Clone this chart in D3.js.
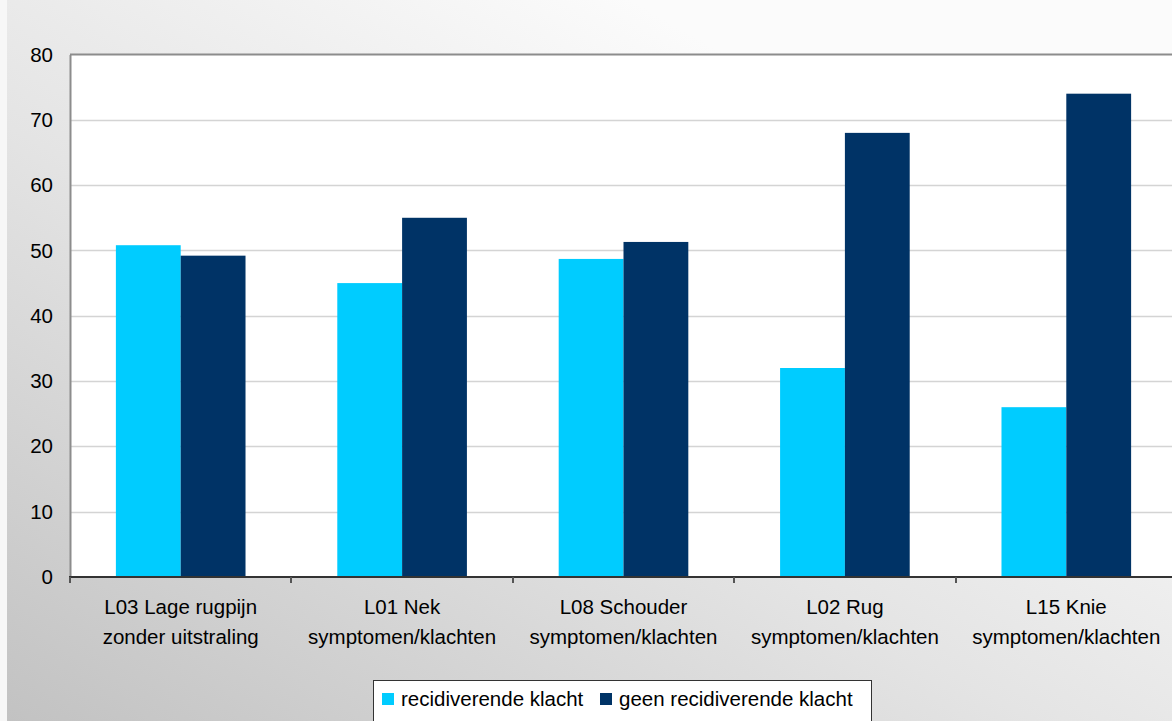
<!DOCTYPE html>
<html>
<head>
<meta charset="utf-8">
<script src="https://cdn.jsdelivr.net/npm/d3@7"></script>
<style>
  html, body { margin: 0; padding: 0; background: #fff; overflow: hidden; }
  svg { display: block; font-family: "Liberation Sans", Arial, sans-serif; }
</style>
</head>
<body>
<svg id="chart" width="1172" height="721"></svg>
<script>
// Complaint categories (two-line labels)
const categories = [
  ["L03 Lage rugpijn", "zonder uitstraling"],
  ["L01 Nek", "symptomen/klachten"],
  ["L08 Schouder", "symptomen/klachten"],
  ["L02 Rug", "symptomen/klachten"],
  ["L15 Knie", "symptomen/klachten"]
];
const seriesNames = ["recidiverende klacht", "geen recidiverende klacht"];
const recidiverend = [50.8, 45.0, 48.7, 32.0, 26.0];
const geenRecidiverend = [49.2, 55.0, 51.3, 68.0, 74.0];
const yTicks = [0, 10, 20, 30, 40, 50, 60, 70, 80];
const colors = ["#00CCFF", "#003366"];

const FONT = 20.5;
const svg = d3.select("#chart");
const W = 1172, H = 721;

// Background gradient (grey bottom-left to near-white top-right)
const defs = svg.append("defs");
const grad = defs.append("linearGradient")
  .attr("id", "bg").attr("x1", "0").attr("y1", "1").attr("x2", "0.75").attr("y2", "0.2");
grad.append("stop").attr("offset", "0").attr("stop-color", "#c2c2c2");
grad.append("stop").attr("offset", "0.55").attr("stop-color", "#e4e4e4");
grad.append("stop").attr("offset", "1").attr("stop-color", "#fbfbfb");

svg.append("rect").attr("x", 0).attr("y", 0).attr("width", W).attr("height", H).attr("fill", "#f7f7f7");
svg.append("rect").attr("x", 7).attr("y", 0).attr("width", W - 7).attr("height", H).attr("fill", "url(#bg)");

// Plot area
const plot = { left: 70, top: 54.5, bottom: 577, right: 1177 };
const x = d3.scaleBand().domain(d3.range(categories.length)).range([plot.left, plot.right]).paddingInner(0).paddingOuter(0);
const y = d3.scaleLinear().domain([0, 80]).range([plot.bottom, plot.top]);
const inner = d3.scaleBand().domain([0, 1]).range([0, x.bandwidth()]).paddingOuter(0.708).paddingInner(0);

svg.append("rect")
  .attr("x", plot.left).attr("y", plot.top)
  .attr("width", plot.right - plot.left).attr("height", plot.bottom - plot.top)
  .attr("fill", "#ffffff");

// Gridlines
svg.append("g").selectAll("line")
  .data(yTicks.filter(t => t > 0 && t < 80))
  .join("line")
  .attr("x1", plot.left).attr("x2", plot.right)
  .attr("y1", d => Math.round(y(d)) + 0.5).attr("y2", d => Math.round(y(d)) + 0.5)
  .attr("stroke", "#d4d4d4").attr("stroke-width", 1.5);

// Top border
svg.append("line")
  .attr("x1", plot.left).attr("x2", plot.right)
  .attr("y1", plot.top).attr("y2", plot.top)
  .attr("stroke", "#8c8c8c").attr("stroke-width", 2);

// Bars
const series = [recidiverend, geenRecidiverend];
series.forEach((vals, s) => {
  svg.append("g").selectAll("rect")
    .data(vals)
    .join("rect")
    .attr("x", (d, i) => x(i) + inner(s))
    .attr("width", inner.bandwidth())
    .attr("y", d => y(d))
    .attr("height", d => y(0) - y(d))
    .attr("fill", colors[s]);
});

// Y axis
const yAxis = svg.append("g")
  .attr("transform", `translate(${plot.left},0)`)
  .call(d3.axisLeft(y).tickValues(yTicks).tickSize(0).tickPadding(17));
yAxis.select(".domain").attr("stroke", "#8c8c8c").attr("stroke-width", 2);
yAxis.selectAll("text").attr("font-size", FONT).attr("fill", "#000")
  .attr("font-family", "'Liberation Sans', Arial, sans-serif");

// X axis with boundary ticks
const xg = svg.append("g");
xg.append("line")
  .attr("x1", plot.left - 1).attr("x2", plot.right)
  .attr("y1", plot.bottom).attr("y2", plot.bottom)
  .attr("stroke", "#333").attr("stroke-width", 2);
xg.selectAll("line.tick")
  .data(d3.range(categories.length + 1))
  .join("line").attr("class", "tick")
  .attr("x1", i => Math.round(plot.left + i * x.step()))
  .attr("x2", i => Math.round(plot.left + i * x.step()))
  .attr("y1", plot.bottom).attr("y2", plot.bottom + 6)
  .attr("stroke", "#555").attr("stroke-width", 2);

const labels = xg.selectAll("text.cat")
  .data(categories)
  .join("text").attr("class", "cat")
  .attr("text-anchor", "middle")
  .attr("font-size", FONT).attr("fill", "#000");
labels.each(function(d, i) {
  const t = d3.select(this);
  d.forEach((line, k) => {
    t.append("tspan")
      .attr("x", x(i) + x.bandwidth() / 2)
      .attr("y", 614 + k * 29.5)
      .text(line);
  });
});

// Legend
const lg = svg.append("g");
lg.append("rect")
  .attr("x", 373.5).attr("y", 680.5).attr("width", 498).attr("height", 60)
  .attr("fill", "#fff").attr("stroke", "#333").attr("stroke-width", 1);
const legendX = [382, 600];
seriesNames.forEach((name, s) => {
  lg.append("rect")
    .attr("x", legendX[s]).attr("y", 693)
    .attr("width", 12).attr("height", 12)
    .attr("fill", colors[s]);
  lg.append("text")
    .attr("x", legendX[s] + 19).attr("y", 706)
    .attr("font-size", FONT).attr("fill", "#000")
    .text(name);
});
</script>
</body>
</html>
